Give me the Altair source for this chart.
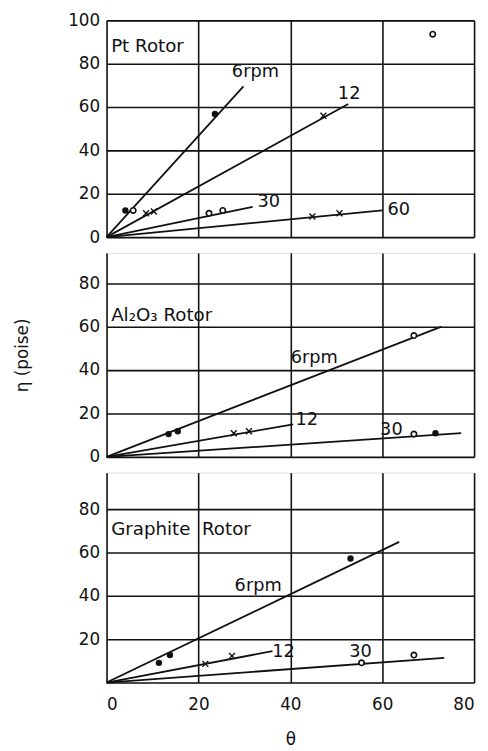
import altair as alt
import pandas as pd

FONT = "DejaVu Sans"

# ---------------- data ----------------
panels = ["Pt Rotor", "Al₂O₃ Rotor", "Graphite\u00a0\u00a0Rotor"]
y_tops = [100, 94, 97]
y_ticks = [[0, 20, 40, 60, 80, 100], [0, 20, 40, 60, 80], [0, 20, 40, 60, 80]]
heights = [220, 207, 213]
label_y = [88, 65.5, 71]

# fitted lines through origin: end points per rpm series
line_rpm = [["6", "12", "30", "60"], ["6", "12", "30"], ["6", "12", "30"]]
line_end_x = [[29.8, 52.6, 31.8, 60.0], [72.9, 40.6, 77.2], [63.7, 36.1, 73.5]]
line_end_y = [[69.5, 61.4, 14.0, 12.3], [60.0, 15.0, 10.9], [65.0, 14.5, 11.4]]

# filled dots
dot_x = [[4.1, 23.6], [13.5, 15.5, 71.6], [11.4, 13.8, 53.1]]
dot_y = [[12.3, 56.8], [10.5, 11.8, 10.9], [9.1, 12.7, 57.3]]
# open circles
ring_x = [[5.8, 22.3, 25.3, 71.0], [66.9, 66.9], [55.5, 66.9]]
ring_y = [[12.3, 11.0, 12.3, 93.6], [55.9, 10.5], [9.1, 12.7]]
# crosses
cross_x = [[8.6, 10.3, 47.2, 44.8, 50.7], [27.7, 31.0], [21.5, 27.3]]
cross_y = [[11.0, 11.8, 56.0, 9.5, 11.0], [10.9, 11.8], [8.6, 12.3]]

# series labels
lab_text = [["6rpm", "12", "30", "60"], ["6rpm", "12", "30"], ["6rpm", "12", "30"]]
lab_x = [[32.4, 52.8, 35.3, 63.6], [45.2, 43.6, 62.0], [33.0, 38.5, 55.3]]
lab_y = [[76.0, 66.0, 16.3, 12.3], [45.5, 16.8, 12.5], [44.5, 14.0, 14.0]]

x_ticks = [0, 20, 40, 60, 80]

W = 373


def panel(i):
    last = i == 2
    ytop = y_tops[i]
    xs = alt.Scale(domain=[0, 80], nice=False, zero=False)
    ys = alt.Scale(domain=[0, ytop], nice=False, zero=False)

    xaxis = alt.Axis(
        values=x_ticks, grid=True, gridColor="#111", gridWidth=1.6,
        domain=False, ticks=False, labels=last,
        labelFont=FONT, labelFontSize=17, labelColor="#111",
        labelPadding=14 if last else 0,
        title="θ" if last else None,
        titleFont=FONT, titleFontSize=17, titleFontWeight="normal", titleColor="#111",
        titlePadding=20,
    )
    yaxis = alt.Axis(
        values=y_ticks[i], grid=True,
        gridColor="#111", gridWidth=1.6, domain=False, ticks=False,
        labelFont=FONT, labelFontSize=17, labelColor="#111", labelPadding=7,
        labelExpr="datum.value == 0 && %s ? '' : datum.label" % ("true" if last else "false"),
        title="η  (poise)" if i == 1 else None,
        titleFont=FONT, titleFontSize=17, titleFontWeight="normal", titleColor="#111",
        titlePadding=48,
    )

    rows = []
    for r, ex, ey in zip(line_rpm[i], line_end_x[i], line_end_y[i]):
        rows.append({"rpm": r, "x": 0.0, "y": 0.0})
        rows.append({"rpm": r, "x": ex, "y": ey})
    ldf = pd.DataFrame(rows)

    lines = alt.Chart(ldf).mark_line(color="#111", strokeWidth=1.8).encode(
        x=alt.X("x:Q", scale=xs, axis=xaxis),
        y=alt.Y("y:Q", scale=ys, axis=yaxis),
        detail="rpm:N",
    )

    dots = alt.Chart(pd.DataFrame({"x": dot_x[i], "y": dot_y[i]})).mark_point(
        shape="circle", filled=True, color="#111", size=42, opacity=1
    ).encode(x=alt.X("x:Q", scale=xs), y=alt.Y("y:Q", scale=ys))

    rings = alt.Chart(pd.DataFrame({"x": ring_x[i], "y": ring_y[i]})).mark_point(
        shape="circle", filled=True, fill="white", stroke="#111", strokeWidth=1.7,
        size=30, opacity=1
    ).encode(x=alt.X("x:Q", scale=xs), y=alt.Y("y:Q", scale=ys))

    crosses = alt.Chart(pd.DataFrame({"x": cross_x[i], "y": cross_y[i]})).mark_point(
        shape="M-1,-1L1,1M-1,1L1,-1", filled=False, color="#111", strokeWidth=1.4,
        size=36, opacity=1
    ).encode(x=alt.X("x:Q", scale=xs), y=alt.Y("y:Q", scale=ys))

    labs = alt.Chart(pd.DataFrame({"x": lab_x[i], "y": lab_y[i], "t": lab_text[i]})).mark_text(
        font=FONT, fontSize=18, color="#111", align="center", baseline="middle"
    ).encode(x=alt.X("x:Q", scale=xs), y=alt.Y("y:Q", scale=ys), text="t:N")

    title = alt.Chart(pd.DataFrame({"x": [1.0], "y": [label_y[i]], "t": [panels[i]]})).mark_text(
        font=FONT, fontSize=18.5, color="#111", align="left", baseline="middle"
    ).encode(x=alt.X("x:Q", scale=xs), y=alt.Y("y:Q", scale=ys), text="t:N")

    return alt.layer(lines, dots, rings, crosses, labs, title).properties(
        width=W, height=heights[i]
    )


chart = alt.vconcat(panel(0), panel(1), panel(2), spacing=6).configure_view(
    stroke=None
).configure(
    background="white",
    padding={"top": -3, "left": 4, "right": 5, "bottom": 0},
)

chart.save("out.html", embed_options={"renderer": "svg", "actions": False})
